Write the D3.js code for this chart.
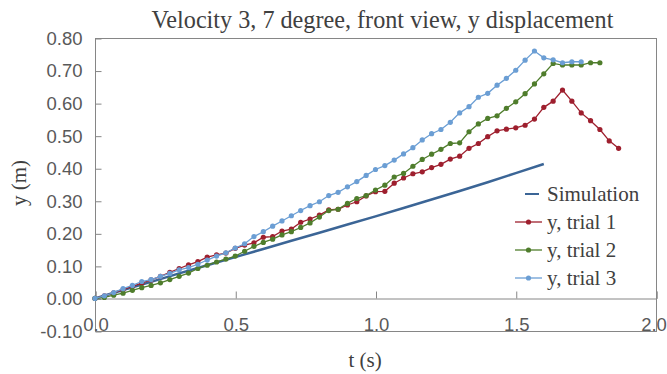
<!DOCTYPE html>
<html>
<head>
<meta charset="utf-8">
<script src="https://cdn.jsdelivr.net/npm/d3@7"></script>
<style>
  body { margin: 0; background: #fff; }
  svg { display: block; }
</style>
</head>
<body>
<div class="container"></div>
<script>
// frames were sampled at 30 fps, trial values are y (m) per frame
var fps = 30;

var trial1 = [0, 0.008, 0.017, 0.027, 0.037, 0.047, 0.057, 0.068, 0.080, 0.092,
  0.103, 0.113, 0.127, 0.134, 0.139, 0.154, 0.164, 0.171, 0.188, 0.190,
  0.207, 0.213, 0.234, 0.244, 0.256, 0.272, 0.274, 0.287, 0.297, 0.315,
  0.328, 0.329, 0.354, 0.370, 0.383, 0.389, 0.402, 0.412, 0.428, 0.437,
  0.461, 0.476, 0.497, 0.515, 0.520, 0.524, 0.532, 0.551, 0.587, 0.606,
  0.640, 0.606, 0.570, 0.546, 0.519, 0.484, 0.461];

var trial2 = [0, 0.003, 0.010, 0.016, 0.025, 0.033, 0.040, 0.048, 0.058, 0.068,
  0.078, 0.092, 0.102, 0.112, 0.121, 0.130, 0.145, 0.160, 0.172, 0.182,
  0.195, 0.205, 0.218, 0.232, 0.250, 0.270, 0.274, 0.292, 0.307, 0.316,
  0.333, 0.348, 0.373, 0.384, 0.406, 0.427, 0.443, 0.458, 0.476, 0.478,
  0.512, 0.536, 0.553, 0.561, 0.584, 0.604, 0.629, 0.659, 0.690, 0.722,
  0.717, 0.717, 0.717, 0.724, 0.724];

var trial3 = [0, 0.008, 0.018, 0.030, 0.040, 0.052, 0.058, 0.068, 0.077, 0.088,
  0.095, 0.105, 0.118, 0.130, 0.140, 0.155, 0.168, 0.190, 0.205, 0.222,
  0.238, 0.254, 0.270, 0.285, 0.297, 0.316, 0.326, 0.343, 0.359, 0.378,
  0.396, 0.408, 0.425, 0.444, 0.463, 0.487, 0.506, 0.519, 0.541, 0.570,
  0.589, 0.618, 0.630, 0.655, 0.676, 0.701, 0.732, 0.760, 0.739, 0.733,
  0.724, 0.727, 0.727];

var simT = [0, 0.1, 0.2, 0.3, 0.4, 0.5, 0.6, 0.7, 0.8, 0.9, 1.0, 1.1, 1.2, 1.3, 1.4, 1.5, 1.6];
var simY = [0, 0.026, 0.051, 0.077, 0.102, 0.127, 0.152, 0.177, 0.202, 0.227,
  0.252, 0.278, 0.304, 0.330, 0.357, 0.385, 0.413];

var xTicks = [0, 0.5, 1.0, 1.5, 2.0];
var yTicks = [-0.1, 0, 0.1, 0.2, 0.3, 0.4, 0.5, 0.6, 0.7, 0.8];
var seriesNames = ["Simulation", "y, trial 1", "y, trial 2", "y, trial 3"];

buildChart();

function buildChart() {

  /* ===== SET UP CHART =====*/
  var w = 667, h = 374;
  var box = {left: 95, top: 38, right: 656, bottom: 331};
  var colors = {sim: "#3b6596", t1: "#9e1f2e", t2: "#4f7d2c", t3: "#6b9ed4"};
  var serif = "'Liberation Serif', 'Times New Roman', serif";
  var sans = "'Liberation Sans', Arial, sans-serif";

  var svg = d3.select('.container')
    .append('svg')
    .attr('width', w)
    .attr('height', h);

  var xScale = d3.scaleLinear().domain([0, 2]).range([box.left, box.right]);
  var yScale = d3.scaleLinear().domain([-0.1, 0.8]).range([box.bottom, box.top]);

  // plot area border
  svg.append('rect')
    .attr('x', box.left + 0.5)
    .attr('y', box.top + 0.5)
    .attr('width', box.right - box.left)
    .attr('height', box.bottom - box.top)
    .attr('fill', 'none')
    .attr('stroke', '#868686')
    .attr('stroke-width', 1);

  /* --- axes --- */
  var yAxis = d3.axisLeft(yScale)
    .tickValues(yTicks)
    .tickSize(-6)
    .tickPadding(13)
    .tickFormat(function(d) { return d.toFixed(2); });

  var gy = svg.append('g')
    .attr('transform', 'translate(' + (box.left + 0.5) + ',0.5)')
    .call(yAxis);
  gy.select('.domain').remove();

  var xAxis = d3.axisBottom(xScale)
    .tickValues(xTicks)
    .tickSize(-7)
    .tickPadding(19)
    .tickFormat(d3.format('.1f'));

  var gx = svg.append('g')
    .attr('transform', 'translate(0.5,' + (Math.round(yScale(0)) + 0.5) + ')')
    .call(xAxis);
  gx.select('.domain').attr('stroke', '#868686');

  svg.selectAll('.tick line').attr('stroke', '#868686');
  svg.selectAll('.tick text')
    .attr('fill', '#595959')
    .style('font', '18.5px ' + sans);

  // last x label sits on the right edge, nudge it inside the page
  gx.selectAll('.tick text')
    .filter(function(d) { return d === 2; })
    .attr('dx', -3);

  /* --- series --- */
  var line = d3.line()
    .x(function(d) { return xScale(d[0]); })
    .y(function(d) { return yScale(d[1]); });

  var simData = simT.map(function(t, i) { return [t, simY[i]]; });
  svg.append('path')
    .datum(simData)
    .attr('fill', 'none')
    .attr('stroke', colors.sim)
    .attr('stroke-width', 2.5)
    .attr('d', line);

  var trials = [
    {vals: trial1, color: colors.t1},
    {vals: trial2, color: colors.t2},
    {vals: trial3, color: colors.t3}
  ];

  trials.forEach(function(s) {
    var pts = s.vals.map(function(v, i) { return [i / fps, v]; });
    var g = svg.append('g');
    g.append('path')
      .datum(pts)
      .attr('fill', 'none')
      .attr('stroke', s.color)
      .attr('stroke-width', 1.3)
      .attr('d', line);
    g.selectAll('circle')
      .data(pts)
      .enter()
      .append('circle')
      .attr('cx', function(d) { return xScale(d[0]); })
      .attr('cy', function(d) { return yScale(d[1]); })
      .attr('r', 2.6)
      .attr('fill', s.color);
  });

  /* ===== LABELS =====*/
  svg.append('text')
    .attr('x', 382.5)
    .attr('y', 28)
    .attr('text-anchor', 'middle')
    .attr('fill', '#404040')
    .style('font', '24.2px ' + serif)
    .text('Velocity 3, 7 degree, front view, y displacement');

  svg.append('text')
    .attr('transform', 'translate(26,' + 183 + ') rotate(-90)')
    .attr('text-anchor', 'middle')
    .attr('fill', '#404040')
    .style('font', '21px ' + serif)
    .text('y (m)');

  svg.append('text')
    .attr('x', 365)
    .attr('y', 367)
    .attr('text-anchor', 'middle')
    .attr('fill', '#404040')
    .style('font', '21px ' + serif)
    .text('t (s)');

  /* --- legend --- */
  var legendColors = [colors.sim, colors.t1, colors.t2, colors.t3];
  var legend = svg.append('g');
  seriesNames.forEach(function(name, i) {
    var cy = 194 + i * 28;
    if (i === 0) {
      legend.append('line')
        .attr('x1', 525).attr('x2', 539)
        .attr('y1', cy).attr('y2', cy)
        .attr('stroke', legendColors[i])
        .attr('stroke-width', 2);
    } else {
      legend.append('line')
        .attr('x1', 515).attr('x2', 542)
        .attr('y1', cy).attr('y2', cy)
        .attr('stroke', legendColors[i])
        .attr('stroke-width', 1.3);
      legend.append('circle')
        .attr('cx', 528.5).attr('cy', cy)
        .attr('r', 2.6)
        .attr('fill', legendColors[i]);
    }
    legend.append('text')
      .attr('x', 547)
      .attr('y', cy)
      .attr('dy', '0.33em')
      .attr('fill', '#404040')
      .style('font', '21px ' + serif)
      .text(name);
  });
}
</script>
</body>
</html>
